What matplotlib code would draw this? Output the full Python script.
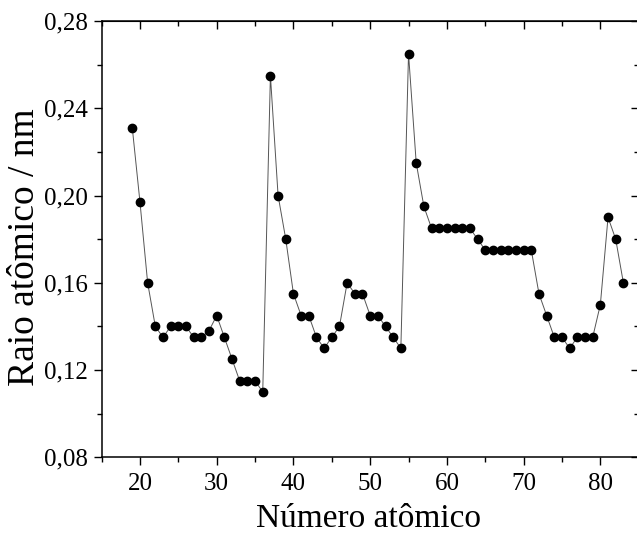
import matplotlib
matplotlib.use("Agg")
import matplotlib.pyplot as plt
from matplotlib.ticker import MultipleLocator, FuncFormatter

# Atomic radius (nm) vs atomic number
atomic_number = list(range(19, 84))
radius_nm = [
    0.231, 0.197, 0.160, 0.140, 0.135, 0.140, 0.140, 0.140, 0.135, 0.135,  # 19-28
    0.138, 0.145, 0.135, 0.125, 0.115, 0.115, 0.115, 0.110,                # 29-36
    0.255, 0.200, 0.180, 0.155, 0.145, 0.145, 0.135, 0.130, 0.135, 0.140,  # 37-46
    0.160, 0.155, 0.155, 0.145, 0.145, 0.140, 0.135, 0.130,                # 47-54
    0.265, 0.215, 0.195, 0.185, 0.185, 0.185, 0.185, 0.185, 0.185, 0.180,  # 55-64
    0.175, 0.175, 0.175, 0.175, 0.175, 0.175, 0.175,                       # 65-71
    0.155, 0.145, 0.135, 0.135, 0.130, 0.135, 0.135, 0.135, 0.150, 0.190,  # 72-81
    0.180, 0.160,                                                          # 82-83
]

plt.rcParams["font.family"] = ["Liberation Serif", "DejaVu Serif"]

W, H = 637, 533
fig = plt.figure(figsize=(W / 100, H / 100), dpi=100)
ax = fig.add_axes([0.1595, 0.142, 0.8432, 0.8186])

ax.plot(atomic_number, radius_nm, color="#555555", lw=0.7, zorder=1)
ax.plot(atomic_number, radius_nm, "o", color="black", ms=6, zorder=2)

ax.set_xlim(15, 85)
ax.set_ylim(0.08, 0.28)
ax.xaxis.set_major_locator(MultipleLocator(10))
ax.xaxis.set_minor_locator(MultipleLocator(5))
ax.yaxis.set_major_locator(MultipleLocator(0.04))
ax.yaxis.set_minor_locator(MultipleLocator(0.02))
ax.yaxis.set_major_formatter(FuncFormatter(lambda v, p: f"{v:.2f}".replace(".", ",")))

for s in ax.spines.values():
    s.set_linewidth(1.1)

ax.tick_params(which="both", direction="out", top=False, right=False,
               width=1.0, labelsize=18)
ax.tick_params(axis="x", pad=5)
ax.tick_params(axis="y", pad=4)
ax.tick_params(which="major", length=6)
ax.tick_params(which="minor", length=3.5)

# mirrored ticks pointing inward on top/right
ax2 = ax.secondary_xaxis("top")
ax2.xaxis.set_major_locator(MultipleLocator(10))
ax2.xaxis.set_minor_locator(MultipleLocator(5))
ax2.tick_params(which="both", direction="in", labeltop=False, width=1.0)
ax2.tick_params(which="major", length=6)
ax2.tick_params(which="minor", length=3.5)
ax3 = ax.secondary_yaxis("right")
ax3.yaxis.set_major_locator(MultipleLocator(0.04))
ax3.yaxis.set_minor_locator(MultipleLocator(0.02))
ax3.tick_params(which="both", direction="in", labelright=False, width=1.0)
ax3.tick_params(which="major", length=6)
ax3.tick_params(which="minor", length=3.5)

fig.text(369 / W, 1 - 527 / H, "Número atômico", fontsize=24,
         ha="center", va="baseline")
fig.text(34 / W, 1 - 247.5 / H, "Raio atômico / nm", fontsize=27,
         ha="center", va="baseline", rotation=90, rotation_mode="anchor")

fig.savefig("out.png", dpi=100)
